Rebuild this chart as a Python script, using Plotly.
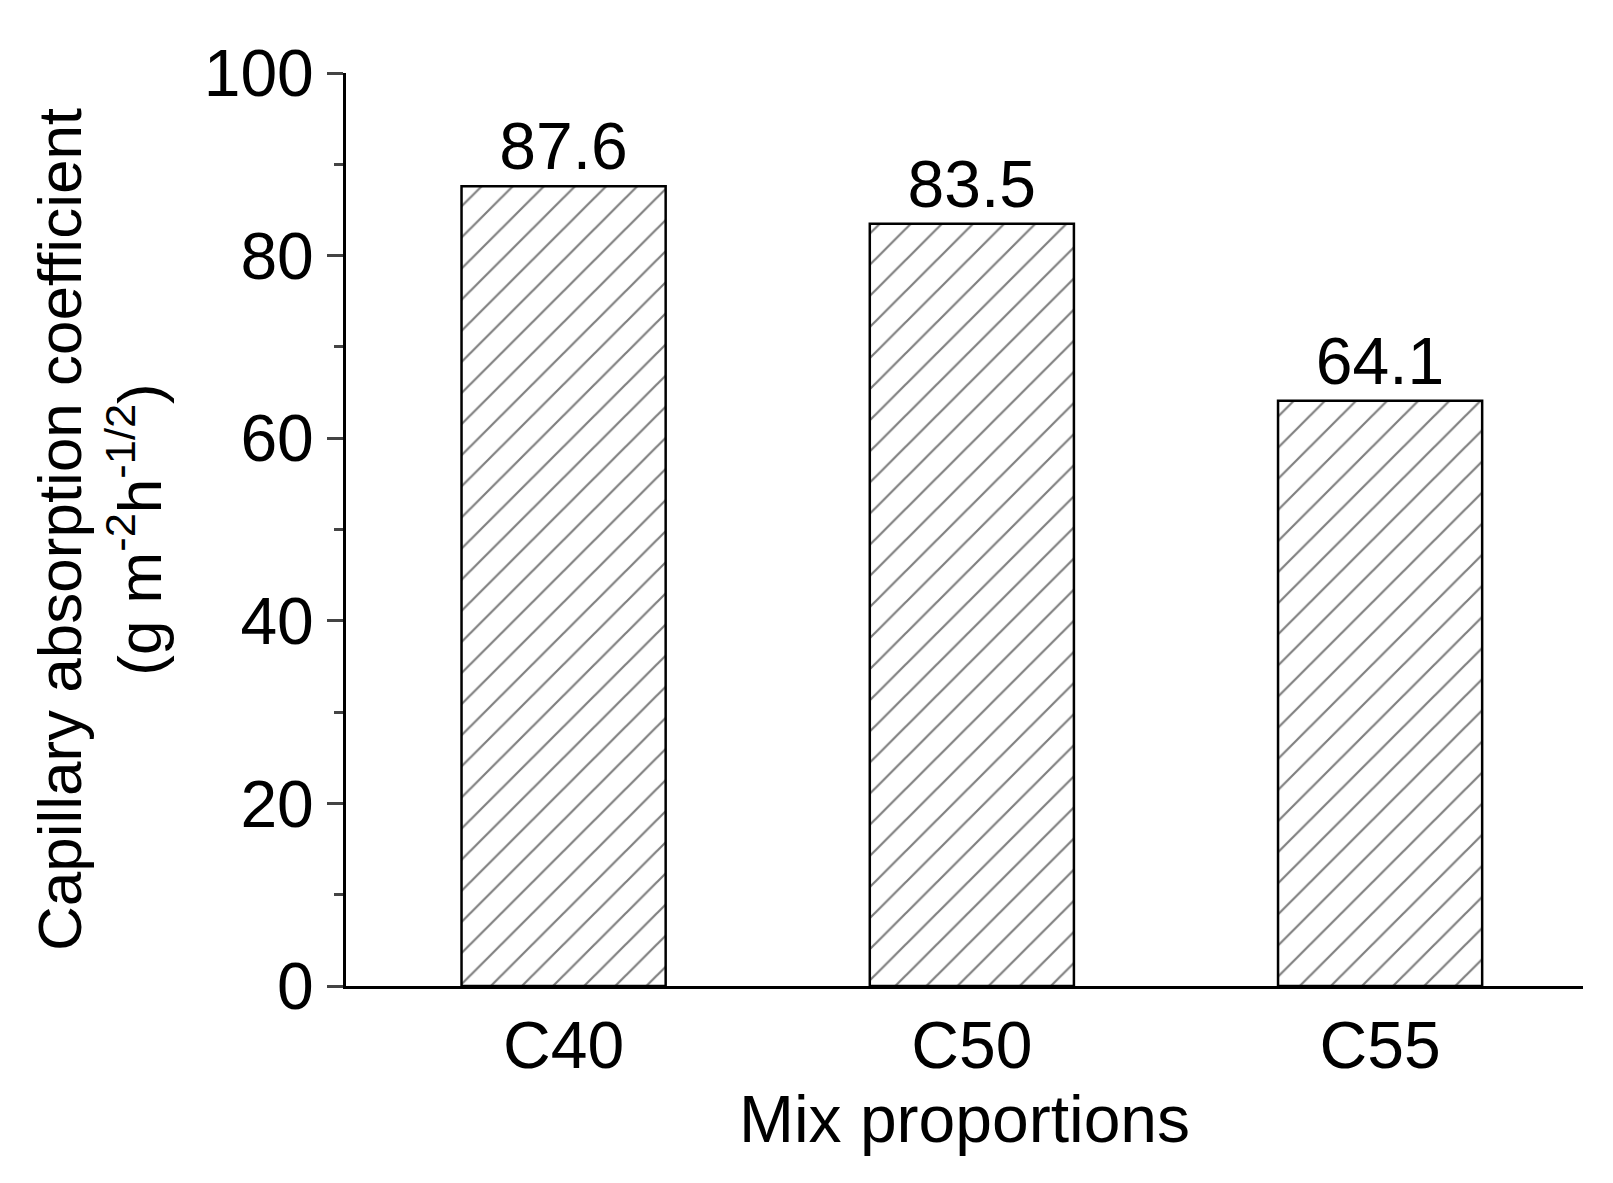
import plotly.graph_objects as go

categories = ["C40", "C50", "C55"]
values = [87.6, 83.5, 64.1]
labels = ["87.6", "83.5", "64.1"]

fig = go.Figure(go.Bar(
    x=categories, y=values, width=0.5,
    text=labels, textposition="outside", cliponaxis=False,
    textfont=dict(size=66, color="black"),
    marker=dict(color="white", line=dict(color="black", width=2.5),
                pattern=dict(shape="/", fgcolor="black", bgcolor="white", size=22, solidity=0.1)),
))
fig.update_layout(
    width=1613, height=1183, plot_bgcolor="white", paper_bgcolor="white",
    margin=dict(l=338, r=38, t=65, b=205),
    font=dict(family="Liberation Sans, Arial", color="black"),
    showlegend=False,
)
fig.update_xaxes(range=[-0.533, 2.497], showline=True, linecolor="black", linewidth=3,
                 ticks="", tickfont=dict(size=66),
                 title=dict(text="Mix proportions", font=dict(size=66), standoff=5))
fig.update_yaxes(range=[0, 100], dtick=20, showline=True, linecolor="black", linewidth=3,
                 ticks="outside", ticklen=16, tickwidth=3, showgrid=False, zeroline=False,
                 tickfont=dict(size=66),
                 minor=dict(dtick=10, ticks="outside", ticklen=9, tickwidth=3, showgrid=False),
                 title=dict(text="Capillary absorption coefficient<br>(g m<sup>-2</sup>h<sup>-1/2</sup>)",
                            font=dict(size=62), standoff=22))
fig.write_html("out.html")
